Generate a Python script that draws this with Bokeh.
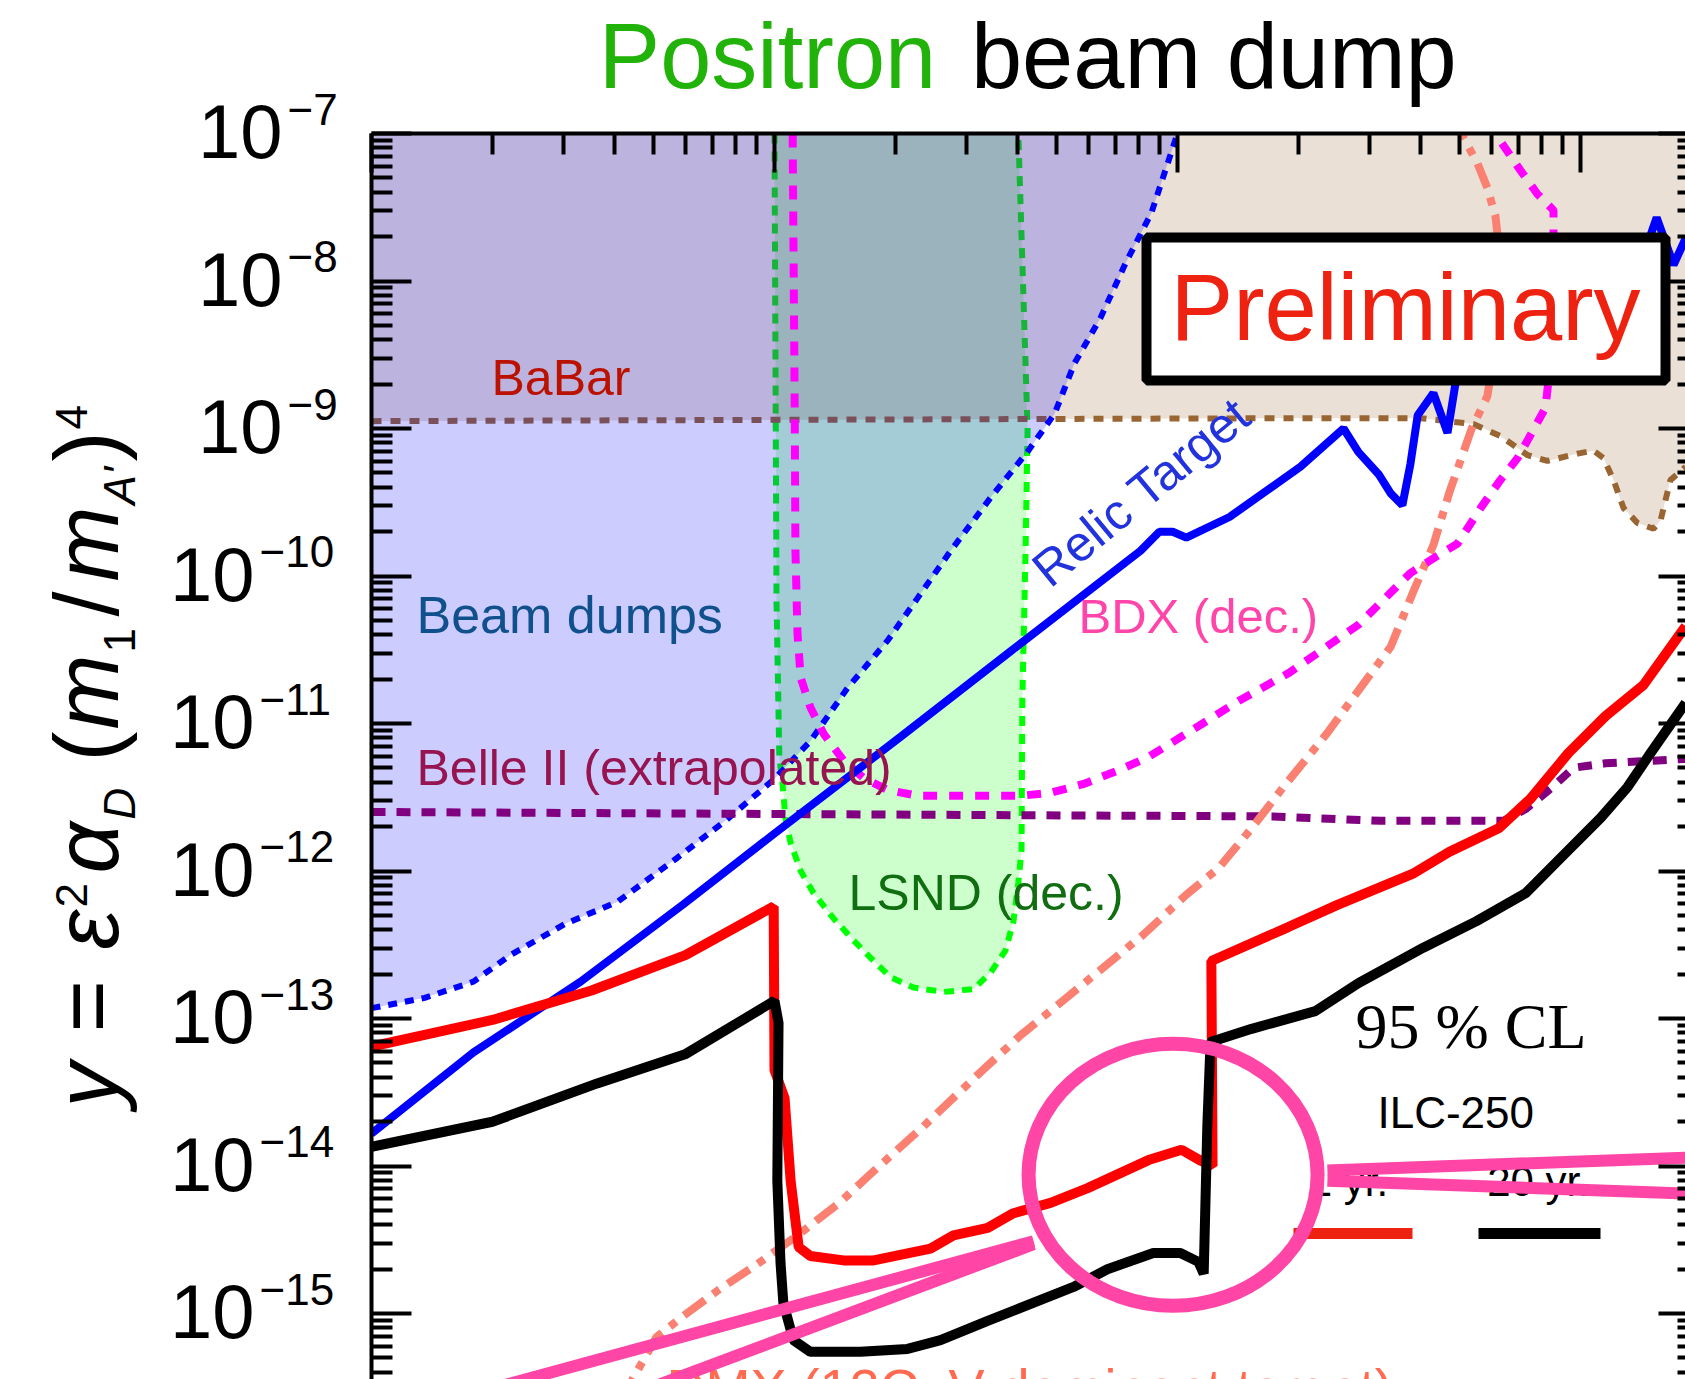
import numpy as np
from bokeh.plotting import figure
from bokeh.layouts import row, column
from bokeh.models import Range1d, FixedTicker, LogAxis, Label, BoxAnnotation, CustomJSTickFormatter
from bokeh.embed import file_html
from bokeh.resources import INLINE
from bokeh.core.properties import value

# ---------------- data (log10 of m in MeV, log10 of y) ----------------
yr20_lm = [0.00, 0.30, 0.56, 0.78, 1.00, 1.01, 1.007, 1.015, 1.022, 1.047, 1.089, 1.213, 1.330,
           1.412, 1.529, 1.603, 1.742, 1.826, 1.940, 2.007, 2.052, 2.065, 2.074, 2.082, 2.184,
           2.342, 2.449, 2.610, 2.742, 2.864, 2.955, 3.050, 3.117, 3.169, 3.261]
yr20_ly = [-13.87, -13.70, -13.44, -13.24, -12.88, -13.03, -14.10, -14.66, -14.93, -15.18, -15.26,
           -15.26, -15.24, -15.18, -15.05, -14.97, -14.82, -14.70, -14.59, -14.59, -14.65, -14.73,
           -13.73, -13.16, -13.07, -12.95, -12.76, -12.52, -12.34, -12.15, -11.90, -11.64, -11.43,
           -11.22, -10.86]

yr1_lm = [0.00, 0.30, 0.546, 0.779, 0.998, 1.00, 1.025, 1.040, 1.052, 1.060, 1.089, 1.171, 1.246,
          1.387, 1.444, 1.529, 1.593, 1.685, 1.777, 1.928, 2.010, 2.055, 2.087, 2.084, 2.275,
          2.397, 2.583, 2.675, 2.797, 2.876, 2.970, 3.062, 3.156, 3.261]
yr1_ly = [-13.19, -13.01, -12.81, -12.57, -12.24, -13.35, -13.54, -14.10, -14.37, -14.55, -14.61,
          -14.64, -14.64, -14.56, -14.47, -14.42, -14.32, -14.25, -14.15, -13.96, -13.89, -13.96,
          -14.00, -12.61, -12.38, -12.23, -12.02, -11.87, -11.71, -11.51, -11.20, -10.95, -10.74,
          -10.34]

relic_lm = [0.00, 0.253, 0.519, 0.772, 0.998, 1.313, 1.586, 1.908, 1.955, 1.988, 2.022, 2.129,
            2.305, 2.412, 2.449, 2.499, 2.529, 2.558, 2.578, 2.596, 2.635, 2.670, 2.690, 2.727,
            2.950, 3.161, 3.189, 3.231, 3.261]
relic_ly = [-13.78, -13.23, -12.75, -12.23, -11.75, -11.09, -10.51, -9.83, -9.70, -9.70, -9.74,
            -9.60, -9.26, -9.00, -9.16, -9.31, -9.44, -9.52, -9.24, -8.91, -8.76, -9.03, -8.69,
            -8.34, -8.06, -7.79, -7.57, -7.89, -7.71]

dump_lm = [0.00, 0.132, 0.253, 0.345, 0.479, 0.610, 0.759, 0.878, 0.998, 1.089, 1.181, 1.280,
           1.355, 1.437, 1.536, 1.630, 1.695, 1.744, 1.809, 1.871, 1.935, 2.000]
dump_ly = [-12.93, -12.86, -12.75, -12.57, -12.36, -12.21, -11.91, -11.66, -11.38, -11.12, -10.76,
           -10.44, -10.15, -9.83, -9.47, -9.15, -8.90, -8.56, -8.25, -7.88, -7.54, -7.00]

babar_lm = [0.00, 2.305, 2.603, 2.734, 2.801, 2.868, 2.918, 2.993, 3.032, 3.057, 3.082, 3.107,
            3.141, 3.181, 3.199, 3.223, 3.261]
babar_ly = [-8.95, -8.93, -8.93, -8.97, -9.05, -9.18, -9.22, -9.17, -9.15, -9.20, -9.35, -9.54,
            -9.64, -9.68, -9.62, -9.35, -9.26]

belle_lm = [0.00, 2.236, 2.504, 2.809, 2.864, 2.931, 2.983, 3.062, 3.261]
belle_ly = [-11.60, -11.63, -11.66, -11.66, -11.58, -11.43, -11.30, -11.27, -11.24]

lsnd_lm = [1.000, 1.005, 1.012, 1.020, 1.027, 1.040, 1.065, 1.097, 1.146, 1.196, 1.246, 1.288,
           1.345, 1.419, 1.494, 1.536, 1.573, 1.593, 1.605, 1.613, 1.615, 1.623, 1.628, 1.618, 1.605]
lsnd_ly = [-7.00, -10.17, -11.23, -11.41, -11.64, -11.81, -12.00, -12.15, -12.32, -12.47, -12.61,
           -12.72, -12.79, -12.82, -12.80, -12.69, -12.54, -12.34, -12.08, -11.86, -10.84, -9.83,
           -9.01, -8.13, -7.00]

bdx_lm = [1.045, 1.050, 1.052, 1.057, 1.065, 1.089, 1.122, 1.171, 1.221, 1.280, 1.355, 1.610,
          1.685, 1.767, 1.851, 1.926, 2.045, 2.156, 2.275, 2.449, 2.578, 2.653, 2.695, 2.752,
          2.801, 2.844, 2.883, 2.913, 2.926, 2.933, 2.933, 2.933, 2.893, 2.851, 2.801, 2.792]
bdx_ly = [-7.00, -8.81, -9.83, -10.39, -10.69, -10.89, -11.07, -11.25, -11.37, -11.45, -11.49,
          -11.49, -11.47, -11.41, -11.32, -11.23, -11.03, -10.84, -10.66, -10.33, -9.98, -9.85,
          -9.78, -9.54, -9.35, -9.20, -9.01, -8.86, -8.54, -8.13, -7.71, -7.52, -7.41, -7.25,
          -7.05, -7.00]

dmx_lm = [0.618, 0.707, 0.772, 0.861, 0.960, 1.062, 1.161, 1.248, 1.370, 1.501, 1.608, 1.702,
          1.809, 1.916, 2.022, 2.102, 2.184, 2.263, 2.370, 2.529, 2.583, 2.635, 2.675,
          2.730, 2.769, 2.794, 2.801, 2.789, 2.769, 2.744, 2.710, 2.702]
dmx_ly = [-15.59, -15.16, -15.02, -14.84, -14.66, -14.46, -14.25, -14.03, -13.73, -13.39, -13.12,
          -12.91, -12.67, -12.43, -12.16, -11.98, -11.71, -11.43, -11.07, -10.48, -10.12,
          -9.79, -9.43, -9.00, -8.78, -8.34, -7.86, -7.56, -7.37, -7.20, -7.03, -7.00]

# zoom call-out (circle + connector lines)
zoom_c_lm, zoom_c_ly = [1.989], [-14.06]
conn_lm = [[1.643, 0.270], [1.643, 0.667], [2.372, 3.298], [2.372, 3.298]]
conn_ly = [[-14.51, -15.53], [-14.53, -15.53], [-14.03, -13.94], [-14.10, -14.19]]

y_ticks_exp = list(range(-16, -6))
y_label_exp = list(range(-15, -6))
x_ticks_exp = [0, 1, 2, 3]

# ---------------- layout ----------------
W, H = 1685, 1379
FL, FT = 371, 133           # plot frame left / top on the page
DX, DY = 403.0, 147.5       # pixels per decade
LW, TH = 361, 113           # width of left text strip, height of title strip
KB = 0.35                   # text anchor correction (fraction of font size)
FONT = "Liberation Sans"


def px_x(X):
    return 10 ** ((X - FL) / DX)


def px_y(Y):
    return 10 ** (-7.0 - (Y - FT) / DY)


def P(a):
    return 10 ** np.asarray(a, dtype=float)


def bare(fig):
    fig.title.visible = False
    fig.xgrid.grid_line_color = None
    fig.ygrid.grid_line_color = None


# ---------- main plot ----------
p = figure(width=W - LW, height=H - TH, x_axis_type="log", y_axis_type="log",
           x_range=Range1d(1.0, px_x(W)), y_range=Range1d(px_y(H), 1e-7),
           x_axis_location="above", toolbar_location=None, output_backend="svg",
           min_border_left=FL - LW, min_border_top=FT - TH, min_border_right=0,
           min_border_bottom=0, background_fill_color="white", border_fill_color="white",
           outline_line_color=None)
bare(p)

xt = FixedTicker(ticks=[10.0 ** e for e in x_ticks_exp],
                 minor_ticks=[k * 10.0 ** e for e in x_ticks_exp for k in range(2, 10)])
yt = FixedTicker(ticks=[10.0 ** e for e in y_ticks_exp],
                 minor_ticks=[k * 10.0 ** e for e in y_ticks_exp for k in range(2, 10)])

ax = p.xaxis[0]
ax.ticker = xt
ax.formatter = CustomJSTickFormatter(code="return '';")
ax.major_label_text_font_size = "2px"
ax.major_label_standoff = 0
ax.major_tick_in, ax.major_tick_out = 39, 0
ax.minor_tick_in, ax.minor_tick_out = 21, 0
ax.axis_line_width = 4
ax.major_tick_line_width = 4
ax.minor_tick_line_width = 4

ay = p.yaxis[0]
ay.ticker = yt
ay.formatter = CustomJSTickFormatter(code="return '';")
ay.major_label_text_font_size = "2px"
ay.major_label_standoff = 0
ay.major_tick_in, ay.major_tick_out = 40, 0
ay.minor_tick_in, ay.minor_tick_out = 21, 0
ay.axis_line_width = 4
ay.major_tick_line_width = 4
ay.minor_tick_line_width = 4

ar = LogAxis(ticker=yt, formatter=CustomJSTickFormatter(code="return '';"),
             major_tick_in=27, major_tick_out=0, minor_tick_in=8, minor_tick_out=0,
             axis_line_color=None, major_tick_line_width=4, minor_tick_line_width=4,
             major_label_text_font_size="2px", major_label_standoff=0)
p.add_layout(ar, "right")

TOP = 1e-7
XR = px_x(W)

# LSND region
p.patch(P(lsnd_lm), P(lsnd_ly), fill_color="#00ff00", fill_alpha=0.2, line_color=None)
p.line(P(lsnd_lm), P(lsnd_ly), line_color="#00ff00", line_width=6, line_dash="10 8")
# BaBar region
p.patch(list(P(babar_lm)) + [XR, 1.0], list(P(babar_ly)) + [TOP, TOP],
        fill_color="#996633", fill_alpha=0.2, line_color=None)
p.line(P(babar_lm), P(babar_ly), line_color="#996633", line_width=6, line_dash="10 9")
# Beam dumps region
p.patch(list(P(dump_lm)) + [1.0], list(P(dump_ly)) + [TOP],
        fill_color="#0000ff", fill_alpha=0.2, line_color=None)
p.line(P(dump_lm), P(dump_ly), line_color="#0000ff", line_width=6, line_dash="9 8")
# Belle II
p.line(P(belle_lm), P(belle_ly), line_color="#800080", line_width=8, line_dash="14 11")
# DMX
p.line(P(dmx_lm), P(dmx_ly), line_color="#fa8072", line_width=8, line_dash="26 10 8 10")
# BDX
p.line(P(bdx_lm), P(bdx_ly), line_color="#ff00ff", line_width=8, line_dash="14 12")
# relic target
p.line(P(relic_lm), P(relic_ly), line_color="#0000ff", line_width=8)
# ILC-250 sensitivities
p.line(P(yr1_lm), P(yr1_ly), line_color="#ff0000", line_width=10)
p.line(P(yr20_lm), P(yr20_ly), line_color="#000000", line_width=10)


def txt(fig, X, Y, s, size, color, fx, fy, font=FONT, align="left", angle=0.0, yoff=0,
        style="normal"):
    sh = KB * size
    Xc = X - sh * np.sin(angle)
    Yc = Y - sh * np.cos(angle)
    fig.text(x=[fx(Xc)], y=[fy(Yc)], text=[s], text_font=value(font),
             text_font_size=f"{size}px", text_font_style=style, text_color=color,
             text_align=align, text_baseline="alphabetic", angle=angle, y_offset=yoff)


def mtxt(X, Y, s, size, color, **kw):
    txt(p, X, Y, s, size, color, px_x, px_y, **kw)


mtxt(491, 395, "BaBar", 50, "#bb1100")
mtxt(416, 633, "Beam dumps", 52, "#10508c")
mtxt(416, 785, "Belle II (extrapolated)", 50, "#961450")
mtxt(848, 910, "LSND (dec.)", 50, "#106e10")
mtxt(1078, 633, "BDX (dec.)", 49, "#ff44aa")
mtxt(1050, 589, "Relic Target", 50, "#2233dd", angle=0.689)
mtxt(1355, 1048, "95 % CL", 64, "black", font="Liberation Serif")
mtxt(1377, 1127, "ILC-250", 44, "black")
mtxt(1348, 1196, "1 yr.", 42, "black", align="center")
mtxt(1538, 1196, "20 yr.", 42, "black", align="center")
mtxt(666, 1370, "DMX (12C, V-dominant target)", 54, "#ff6a50", yoff=36)

p.segment(x0=[px_x(1293)], y0=[px_y(1233)], x1=[px_x(1412)], y1=[px_y(1233)],
          line_color="#ee2211", line_width=11)
p.segment(x0=[px_x(1478)], y0=[px_y(1233)], x1=[px_x(1600)], y1=[px_y(1233)],
          line_color="black", line_width=11)

PINK = "#ff45a5"
for lm, ly in zip(conn_lm, conn_ly):
    p.line(P(lm), P(ly), line_color=PINK, line_width=12)
p.ellipse(x=P(zoom_c_lm), y=P(zoom_c_ly), width=289, height=262, width_units="screen",
          height_units="screen", fill_color=None, line_color=PINK, line_width=14)

p.add_layout(BoxAnnotation(left=px_x(1146), right=px_x(1665), top=px_y(237), bottom=px_y(380),
                           fill_color="white", fill_alpha=1.0, line_color="black",
                           line_alpha=1.0, line_width=10))
p.add_layout(Label(x=px_x(1405), y=px_y(340 - KB * 94), text="Preliminary",
                   text_font=FONT, text_font_size="94px", text_color="#ee2211",
                   text_align="center", text_baseline="alphabetic"))

# ---------- title strip ----------
tf = figure(width=W - LW, height=TH, x_range=Range1d(LW, W), y_range=Range1d(TH, 0),
            x_axis_location=None, y_axis_location=None, toolbar_location=None,
            output_backend="svg", min_border=0, background_fill_color="white",
            border_fill_color="white", outline_line_color=None)
bare(tf)
ident = (lambda v: v)
txt(tf, 590, 88, "Positron", 92, "#22b30a", ident, ident)
txt(tf, 965, 88, "beam dump", 92, "black", ident, ident)

# ---------- left strip: y tick labels and y-axis title ----------
lf = figure(width=LW, height=H, x_range=Range1d(0, LW), y_range=Range1d(px_y(H), px_y(0)),
            y_axis_type="log", x_axis_location=None, y_axis_location=None,
            toolbar_location=None, output_backend="svg", min_border=0,
            background_fill_color="white", border_fill_color="white", outline_line_color=None)
bare(lf)

for e in y_label_exp:
    Yt = FT + (-7 - e) * DY
    ex = "\u2212" + str(-e)
    r10 = 282 if len(str(-e)) == 1 else 254
    txt(lf, r10, Yt + 25, "10", 76, "black", ident, px_y, align="right")
    txt(lf, r10 + 5, Yt - 9, ex, 44, "black", ident, px_y, align="left")

# (text, style, size, start y on page, baseline x on page)
ylab_parts = [
    ("y", "italic", 90, 1107, 118),
    ("=", "normal", 90, 1032, 118),
    ("ε", "italic", 90, 949, 118),
    ("2", "normal", 44, 907, 86),
    ("α", "italic", 90, 873, 118),
    ("D", "italic", 44, 819, 134),
    ("(", "normal", 90, 761, 118),
    ("m", "italic", 90, 729, 118),
    ("1", "normal", 44, 652, 134),
    ("/", "normal", 90, 616, 118),
    ("m", "italic", 90, 581, 118),
    ("A'", "italic", 44, 504, 134),
    (")", "normal", 90, 461, 118),
    ("4", "normal", 44, 429, 86),
]
for s, st, fs, Y, X in ylab_parts:
    txt(lf, X, Y, s, fs, "black", ident, px_y, angle=np.pi / 2, style=st)

layout = row(lf, column(tf, p, spacing=0), spacing=0)
open("out.html", "w").write(file_html(layout, INLINE))
